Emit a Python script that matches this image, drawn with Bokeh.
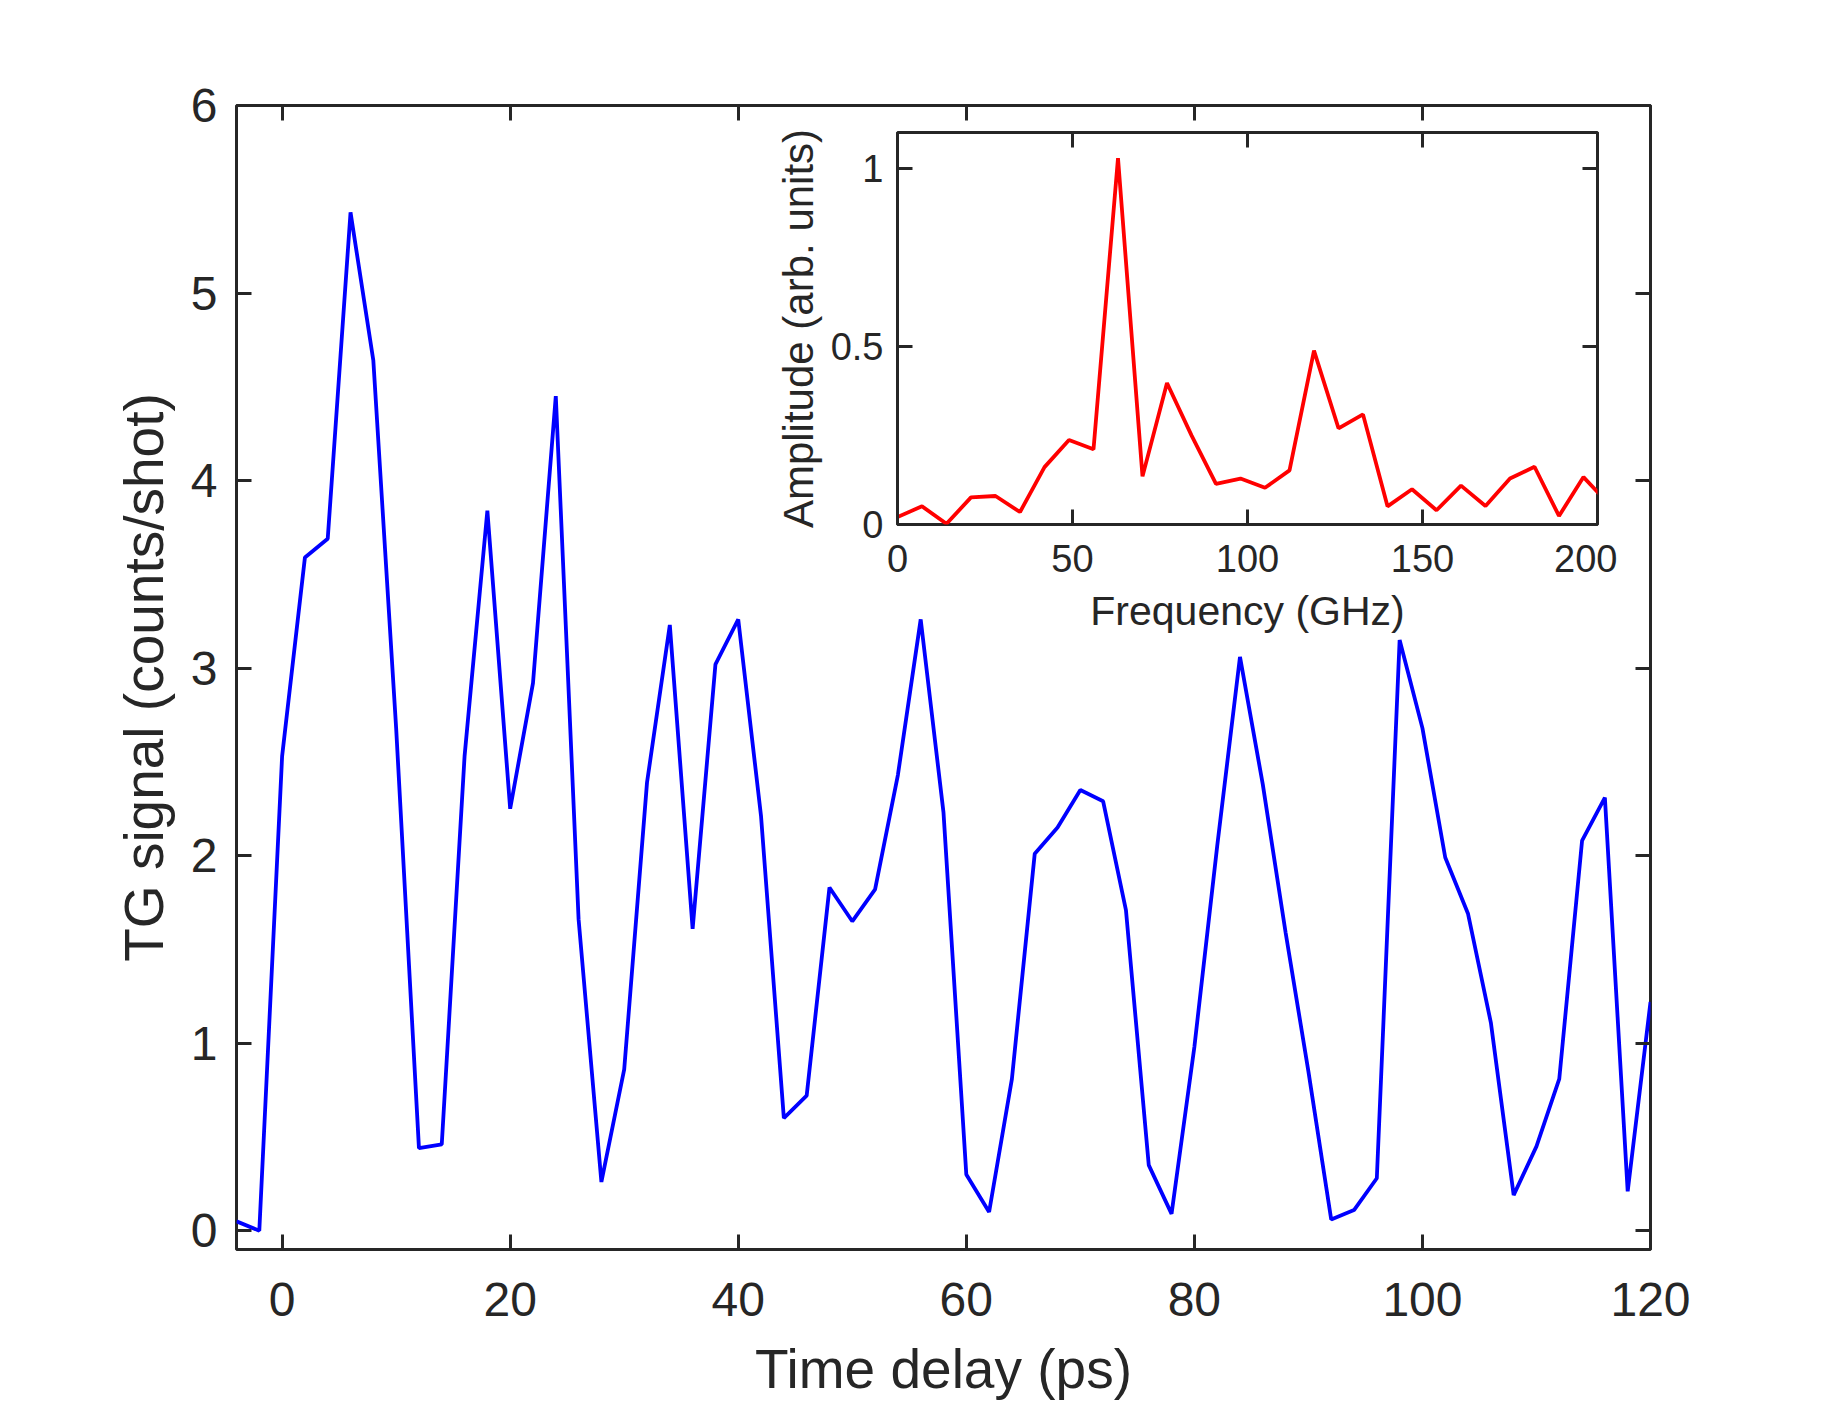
from bokeh.plotting import figure
from bokeh.models import Range1d, LinearAxis, FixedTicker, CustomJSTickFormatter
from bokeh.embed import file_html
from bokeh.resources import INLINE

# ---- data: main TG signal trace ----
time_ps = [-4, -2, 0, 2, 4, 6, 8, 10, 12, 14, 16, 18, 20, 22, 24, 26, 28, 30,
           32, 34, 36, 38, 40, 42, 44, 46, 48, 50, 52, 54, 56, 58, 60, 62, 64,
           66, 68, 70, 72, 74, 76, 78, 80, 82, 84, 86, 88, 90, 92, 94, 96, 98,
           100, 102, 104, 106, 108, 110, 112, 114, 116, 118, 120]
tg_signal = [0.05, 0.00, 2.53, 3.59, 3.69, 5.43, 4.64, 2.68, 0.44, 0.46, 2.53,
             3.84, 2.25, 2.92, 4.45, 1.66, 0.26, 0.86, 2.39, 3.23, 1.61, 3.02,
             3.26, 2.21, 0.60, 0.72, 1.83, 1.65, 1.82, 2.43, 3.26, 2.23, 0.30,
             0.10, 0.81, 2.01, 2.15, 2.35, 2.29, 1.71, 0.35, 0.09, 0.98, 2.05,
             3.06, 2.38, 1.59, 0.85, 0.06, 0.11, 0.28, 3.15, 2.68, 1.99, 1.69,
             1.11, 0.19, 0.45, 0.81, 2.08, 2.31, 0.21, 1.22]

# ---- data: inset spectrum ----
freq_ghz = [0, 7, 14, 21, 28, 35, 42, 49, 56, 63, 70, 77, 84, 91, 98, 105,
            112, 119, 126, 133, 140, 147, 154, 161, 168, 175, 182, 189, 196, 203]
amplitude = [0.021, 0.051, 0.002, 0.076, 0.080, 0.035, 0.161, 0.237, 0.211,
             1.028, 0.135, 0.397, 0.250, 0.114, 0.129, 0.103, 0.152, 0.488,
             0.270, 0.309, 0.051, 0.099, 0.040, 0.109, 0.052, 0.129, 0.162,
             0.024, 0.133, 0.060]

main_xticks = [0, 20, 40, 60, 80, 100, 120]
main_yticks = [0, 1, 2, 3, 4, 5, 6]
inset_xticks = [0, 50, 100, 150, 200]
inset_yticks = [0, 0.5, 1]

FONT = "Liberation Sans"
TXT = "#262626"

# ---- main figure (page origin == figure origin) ----
W, H = 1806, 1406
FL, FT, FR, FB = 236, 105, 1650, 1249

p = figure(width=W, height=H, x_range=Range1d(-4, 120), y_range=Range1d(-0.1, 6),
           output_backend="svg", toolbar_location=None,
           min_border_left=FL, min_border_top=FT,
           min_border_right=W - FR, min_border_bottom=H - FB,
           x_axis_label="Time delay (ps)", y_axis_label="TG signal (counts/shot)")
p.xgrid.visible = False
p.ygrid.visible = False
p.outline_line_color = TXT
p.outline_line_width = 3
p.background_fill_color = "white"
p.border_fill_color = "white"

p.line(time_ps, tg_signal, line_color="#0000FF", line_width=3.8)


def style_axis(ax, ticks, font_px, label_px, show_labels=True):
    ax.ticker = FixedTicker(ticks=ticks)
    ax.minor_tick_line_color = None
    ax.major_tick_in = 15
    ax.major_tick_out = 0
    ax.major_tick_line_color = TXT
    ax.major_tick_line_width = 3
    ax.axis_line_color = None
    ax.major_label_text_font = FONT
    ax.major_label_text_color = TXT
    ax.major_label_text_font_size = font_px
    ax.axis_label_text_font = FONT
    ax.axis_label_text_color = TXT
    ax.axis_label_text_font_style = "normal"
    ax.axis_label_text_font_size = label_px
    if not show_labels:
        ax.formatter = CustomJSTickFormatter(code="return ''")
        ax.major_label_standoff = 0


style_axis(p.xaxis[0], main_xticks, "48px", "55px")
style_axis(p.yaxis[0], main_yticks, "48px", "55px")
p.xaxis[0].major_label_standoff = 33
p.xaxis[0].axis_label_standoff = 19
p.yaxis[0].major_label_standoff = 19
p.yaxis[0].axis_label_standoff = 13

top_ax = LinearAxis()
style_axis(top_ax, main_xticks, "48px", "55px", show_labels=False)
p.add_layout(top_ax, "above")
right_ax = LinearAxis()
style_axis(right_ax, main_yticks, "48px", "55px", show_labels=False)
p.add_layout(right_ax, "right")

# ---- inset figure ----
IL, IT, IR, IB = 140, 20, 20, 140
IFW, IFH = 700, 392
IW, IH = IL + IFW + IR, IT + IFH + IB
inset = figure(width=IW, height=IH,
               x_range=Range1d(0, 200), y_range=Range1d(0, 1.1),
               output_backend="svg", toolbar_location=None,
               min_border_left=IL, min_border_top=IT,
               min_border_right=IR, min_border_bottom=IB,
               x_axis_label="Frequency (GHz)", y_axis_label="Amplitude (arb. units)")
inset.xgrid.visible = False
inset.ygrid.visible = False
inset.outline_line_color = TXT
inset.outline_line_width = 3
inset.background_fill_color = "white"
inset.border_fill_alpha = 0

inset.line(freq_ghz, amplitude, line_color="#FF0000", line_width=3.8)

style_axis(inset.xaxis[0], inset_xticks, "38px", "41px")
style_axis(inset.yaxis[0], inset_yticks, "38px", "42px")
inset.xaxis[0].major_label_standoff = 20
inset.xaxis[0].axis_label_standoff = 13
inset.yaxis[0].major_label_standoff = 14
inset.yaxis[0].axis_label_standoff = 6
inset.yaxis[0].major_label_overrides = {0: "0", 0.5: "0.5", 1: "1"}

itop = LinearAxis()
style_axis(itop, inset_xticks, "38px", "42px", show_labels=False)
inset.add_layout(itop, "above")
iright = LinearAxis()
style_axis(iright, inset_yticks, "38px", "42px", show_labels=False)
inset.add_layout(iright, "right")

inset.styles = {"position": "absolute",
                "left": f"{897 - IL}px",
                "top": f"{132 - IT}px",
                "width": f"{IW}px",
                "height": f"{IH}px"}

with open("out.html", "w") as f:
    f.write(file_html([p, inset], INLINE))
